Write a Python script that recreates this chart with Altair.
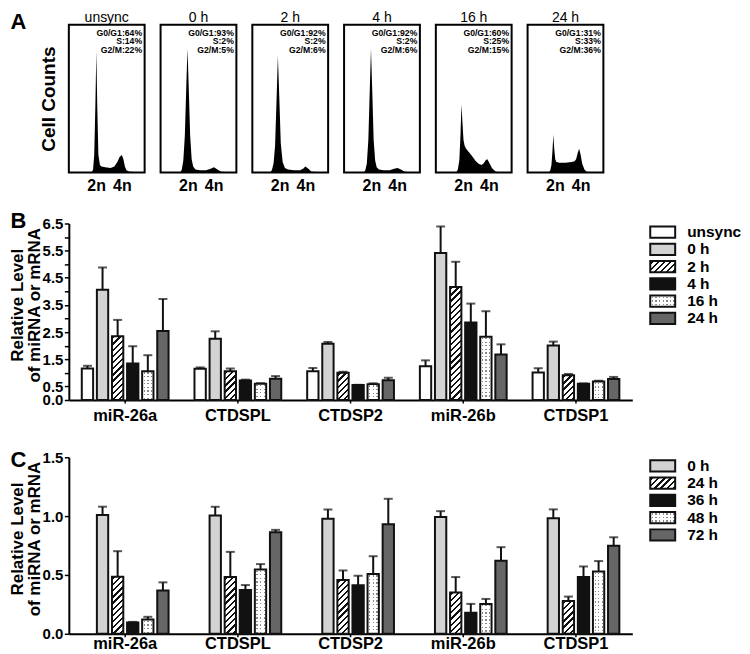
import altair as alt
import pandas as pd

# ---------------- Panel A: flow cytometry histograms ----------------
a_titles = ["unsync", "0 h", "2 h", "4 h", "16 h", "24 h"]
a_g1 = ["G0/G1:64%", "G0/G1:93%", "G0/G1:92%", "G0/G1:92%", "G0/G1:60%", "G0/G1:31%"]
a_s = ["S:14%", "S:2%", "S:2%", "S:2%", "S:25%", "S:33%"]
a_g2 = ["G2/M:22%", "G2/M:5%", "G2/M:6%", "G2/M:6%", "G2/M:15%", "G2/M:36%"]
a_tick_pos = [36, 70]
a_tick_labels = ["2n", "4n"]

a_x = [
    [0, 30, 32, 33.5, 35, 36.3, 37.5, 39, 41, 43, 48, 55, 60, 64, 67, 70, 72, 74, 76, 80, 100],
    [0, 26, 28, 30, 32, 34, 35.5, 37, 39, 41, 43, 46, 52, 60, 66, 70.5, 75, 80, 100],
    [0, 24, 26, 28, 30, 32, 33.7, 35.5, 37.5, 40, 43, 47, 55, 63, 67, 70, 74, 78, 100],
    [0, 26, 28, 30, 32, 34, 35.5, 37, 39, 41, 43, 46, 52, 60, 66, 70.5, 75, 80, 100],
    [0, 27, 29, 31, 32.5, 33.8, 35, 36.5, 38, 40, 44, 48, 52, 56, 60, 63, 66, 68, 71, 74, 78, 82, 100],
    [0, 28, 30, 31.5, 33, 34, 35, 36.5, 38, 42, 50, 58, 62, 64, 66, 68, 70, 72, 75, 78, 82, 100],
]
a_y = [
    [0, 0, 2, 12, 45, 82, 45, 12, 5, 4, 3.5, 3, 4, 7, 10.5, 11.8, 9, 4, 1.5, 0.5, 0],
    [0, 0, 2, 8, 25, 60, 84, 60, 25, 9, 4, 2, 1.5, 1.5, 2.5, 3.5, 2, 0.5, 0],
    [0, 0, 2, 6, 18, 50, 79, 52, 20, 7, 3, 2, 1.5, 1.5, 2.5, 4, 2.5, 0.5, 0],
    [0, 0, 1.5, 6, 22, 58, 84, 58, 22, 8, 3.5, 2, 1.5, 1.5, 2.5, 3, 2, 0.5, 0],
    [0, 0, 2, 8, 25, 46, 35, 22, 18, 16, 13.5, 11, 8, 6, 5, 6, 8.5, 9, 6, 3, 1, 0, 0],
    [0, 0, 1.5, 5, 16, 25.5, 17, 9, 7, 6.5, 6.5, 7, 7.5, 9, 13, 16, 12, 6, 2, 0.5, 0, 0],
]

# ---------------- Panel B ----------------
b_categories = ["miR-26a", "CTDSPL", "CTDSP2", "miR-26b", "CTDSP1"]
b_series = ["unsync", "0 h", "2 h", "4 h", "16 h", "24 h"]
b_means = [
    [1.16, 4.06, 2.35, 1.34, 1.06, 2.54],
    [1.15, 2.26, 1.06, 0.72, 0.60, 0.78],
    [1.06, 2.07, 1.00, 0.55, 0.585, 0.73],
    [1.24, 5.41, 4.16, 2.85, 2.33, 1.68],
    [1.01, 2.01, 0.91, 0.60, 0.68, 0.77],
]
b_errors = [
    [0.10, 0.82, 0.60, 0.64, 0.59, 1.18],
    [0.05, 0.27, 0.10, 0.03, 0.02, 0.10],
    [0.12, 0.07, 0.04, 0.01, 0.03, 0.09],
    [0.22, 0.98, 0.93, 0.70, 0.94, 0.37],
    [0.16, 0.14, 0.05, 0.01, 0.03, 0.08],
]
b_yticks = [0, 0.5, 1, 1.5, 2, 2.5, 3, 3.5, 4, 4.5, 5, 5.5, 6, 6.5]

# ---------------- Panel C ----------------
c_categories = ["miR-26a", "CTDSPL", "CTDSP2", "miR-26b", "CTDSP1"]
c_series = ["0 h", "24 h", "36 h", "48 h", "72 h"]
c_means = [
    [1.01, 0.485, 0.096, 0.121, 0.367],
    [1.006, 0.482, 0.372, 0.547, 0.863],
    [0.978, 0.457, 0.412, 0.507, 0.93],
    [0.992, 0.35, 0.178, 0.254, 0.62],
    [0.981, 0.279, 0.482, 0.53, 0.747],
]
c_errors = [
    [0.07, 0.217, 0.005, 0.023, 0.07],
    [0.073, 0.214, 0.042, 0.045, 0.02],
    [0.079, 0.081, 0.081, 0.152, 0.217],
    [0.05, 0.132, 0.076, 0.042, 0.116],
    [0.076, 0.037, 0.09, 0.088, 0.073],
]
c_yticks = [0, 0.5, 1.0, 1.5]

y_title = ["Relative Level", "of miRNA or mRNA"]

# ---------------- styles ----------------
INK = "#111111"
COLORS = {"white": "#ffffff", "light": "#d3d3d3", "hatch": "#ffffff",
          "black": "#111111", "dots": "#ffffff", "dark": "#666666"}
B_STYLE = {"unsync": "white", "0 h": "light", "2 h": "hatch", "4 h": "black", "16 h": "dots", "24 h": "dark"}
C_STYLE = {"0 h": "light", "24 h": "hatch", "36 h": "black", "48 h": "dots", "72 h": "dark"}

PLOT_W = 565
PLOT_H = 177
X_PI, X_PO = 0.23, 0.115
O_PI = 0.25
LETTER_X = -58.5


def stripe_stops(length, period, thick, phase, on, off):
    stops = [{"offset": 0.0, "color": off}]
    s = phase
    while s < length:
        a = round(s / length, 5)
        b = round(min((s + thick) / length, 1.0), 5)
        stops += [{"offset": a, "color": off}, {"offset": a, "color": on},
                  {"offset": b, "color": on}, {"offset": b, "color": off}]
        s += period
    stops.append({"offset": 1.0, "color": off})
    return stops


def hatch_grad(w, h):
    L = w + h
    k = L / (w * w + h * h)
    return {"gradient": "linear", "x1": 0, "y1": 0, "x2": round(k * w, 5), "y2": round(k * h, 5),
            "stops": stripe_stops(L, 6.2, 2.3, 1.5, INK, "#ffffff")}


def dots_grads(w, h):
    g1 = {"gradient": "linear", "x1": 0, "y1": 0, "x2": 1, "y2": 0,
          "stops": stripe_stops(w, 3.6, 1.3, 1.6, "#8a8a8a", "#ffffff")}
    g2 = {"gradient": "linear", "x1": 0, "y1": 0, "x2": 0, "y2": 1,
          "stops": stripe_stops(h, 3.6, 1.3, 1.2, "transparent", "#ffffff")}
    return g1, g2


def letter_layer(letter, x, y):
    return alt.Chart(pd.DataFrame({"t": [letter]})).mark_text(
        align="left", baseline="top", fontSize=22, fontWeight="bold", color="black"
    ).encode(x=alt.value(x), y=alt.value(y), text="t:N")


# ---------------- build panel A ----------------
A_W, A_H = 76, 148
label_expr_a = "%s[indexof(%s, datum.value)]" % (
    "[" + ",".join("'%s'" % t for t in a_tick_labels) + "]",
    "[" + ",".join(str(v) for v in a_tick_pos) + "]")

hist_charts = []
for i, t in enumerate(a_titles):
    df = pd.DataFrame({"x": a_x[i], "y": a_y[i]})
    xaxis = alt.Axis(values=a_tick_pos, labelExpr=label_expr_a, ticks=False, domain=False, grid=False,
                     tickSize=0, labelFontSize=16, labelFontWeight="bold", labelPadding=5,
                     labelAngle=0, title=None, labelColor="black", labelFlush=False)
    if i == 0:
        yaxis = alt.Axis(title="Cell Counts", labels=False, ticks=False, domain=False, grid=False,
                         titleFontSize=19, titleFontWeight="bold", titlePadding=10, titleColor="black")
    else:
        yaxis = None
    area = alt.Chart(df).mark_area(color="black", interpolate="linear").encode(
        x=alt.X("x:Q", scale=alt.Scale(domain=[0, 100], nice=False, zero=False), axis=xaxis),
        y=alt.Y("y:Q", scale=alt.Scale(domain=[0, 100], nice=False), axis=yaxis),
    )
    one = pd.DataFrame({"k": [0]})
    stats = alt.Chart(one).mark_text(
        text=[a_g1[i], a_s[i], a_g2[i]], align="right", baseline="top", fontSize=8.7,
        fontWeight="bold", lineHeight=8.6, color="black"
    ).encode(x=alt.value(A_W - 2.5), y=alt.value(4))
    title = alt.Chart(pd.DataFrame({"t": [t]})).mark_text(
        align="center", baseline="alphabetic", fontSize=14, color="black"
    ).encode(x=alt.value(A_W / 2), y=alt.value(-2.8), text="t:N")
    layers = [area, stats, title]
    if i == 0:
        layers.append(letter_layer("A", LETTER_X, -13))
        # invisible marker that fixes the top edge of the layout
        layers.append(alt.Chart(one).mark_rule(opacity=0, strokeWidth=1).encode(
            x=alt.value(0), x2=alt.value(1), y=alt.value(-20)))
    hist_charts.append(
        alt.layer(*layers).properties(
            width=A_W, height=A_H,
            view=alt.ViewBackground(stroke="black", strokeWidth=2),
        )
    )


# ---------------- bar panels ----------------
def bar_panel(categories, series, slots, means, errors, style, ymax, yvals, ylabel_expr, letter, letter_y,
              xlabel_pad):
    rows = []
    for ci, cat in enumerate(categories):
        for si, s in enumerate(series):
            rows.append({"category": cat, "series": s, "mean": means[ci][si],
                         "top": means[ci][si] + errors[ci][si]})
    df = pd.DataFrame(rows)
    pxu = PLOT_H / ymax
    step = PLOT_W / (len(categories) - X_PI + 2 * X_PO)
    band = step * (1 - X_PI)
    bar_w = band / (len(slots) - O_PI) * (1 - O_PI)

    xscale = alt.Scale(domain=categories, paddingInner=X_PI, paddingOuter=X_PO)
    oscale = alt.Scale(domain=slots, paddingInner=O_PI, paddingOuter=0)
    yscale = alt.Scale(domain=[0, ymax], nice=False, zero=True)
    xaxis = alt.Axis(title=None, labelAngle=0, labelFontSize=16.5, labelFontWeight="bold",
                     labelPadding=xlabel_pad, tickSize=3, tickWidth=1.5, domainWidth=2, grid=False,
                     labelColor="black", tickColor="black", domainColor="black")
    yaxis = alt.Axis(title=None, values=yvals, labelExpr=ylabel_expr, labelFontSize=15,
                     labelFontWeight="bold", labelPadding=1.5, tickSize=4.5, tickWidth=1.5,
                     labelOverlap=False, labelBound=False,
                     domainWidth=2, grid=False, labelColor="black", tickColor="black",
                     domainColor="black")
    X = alt.X("category:N", scale=xscale, axis=xaxis)
    XO = alt.XOffset("series:N", scale=oscale)
    Ym = alt.Y("mean:Q", scale=yscale, axis=yaxis)

    base = alt.Chart(df)
    rules = base.mark_rule(color=INK, strokeWidth=2).encode(x=X, xOffset=XO, y=Ym, y2="top:Q")
    caps = base.mark_tick(color=INK, thickness=2, size=9, orient="horizontal").encode(
        x=X, xOffset=XO, y=alt.Y("top:Q", scale=yscale, axis=yaxis))
    fills = base.mark_bar().encode(
        x=X, xOffset=XO, y=Ym,
        fill=alt.Fill("series:N", scale=alt.Scale(domain=series, range=[COLORS[style[s]] for s in series]),
                      legend=None))
    overlays = []
    for ci, cat in enumerate(categories):
        for si, s in enumerate(series):
            h = means[ci][si] * pxu
            flt = "datum.category == '%s' && datum.series == '%s'" % (cat, s)
            if style[s] == "hatch":
                overlays.append(base.mark_bar(fill=hatch_grad(bar_w, h)).encode(
                    x=X, xOffset=XO, y=Ym).transform_filter(flt))
            elif style[s] == "dots":
                g1, g2 = dots_grads(bar_w, h)
                overlays.append(base.mark_bar(fill=g1).encode(x=X, xOffset=XO, y=Ym).transform_filter(flt))
                overlays.append(base.mark_bar(fill=g2).encode(x=X, xOffset=XO, y=Ym).transform_filter(flt))
    outline = base.mark_bar(fill="transparent", stroke=INK, strokeWidth=2).encode(x=X, xOffset=XO, y=Ym)
    ytitle = alt.Chart(pd.DataFrame({"k": [0]})).mark_text(
        text=y_title, angle=270, align="center", baseline="bottom", fontSize=17, fontWeight="bold",
        lineHeight=17, color="black"
    ).encode(x=alt.value(-41.5), y=alt.value(82))
    return alt.layer(rules, caps, fills, *overlays, outline, ytitle,
                     letter_layer(letter, LETTER_X, letter_y)).properties(width=PLOT_W, height=PLOT_H)


def legend_panel(series, style):
    n = len(series)
    step = 17.3
    height = step * n
    df = pd.DataFrame({"series": series})
    Y = alt.Y("series:N", scale=alt.Scale(domain=series, paddingInner=0.36, paddingOuter=0.18), axis=None)
    bh = step * (1 - 0.36)
    base = alt.Chart(df)
    fills = base.mark_bar().encode(
        x=alt.value(0), x2=alt.value(25), y=Y,
        fill=alt.Fill("series:N", scale=alt.Scale(domain=series, range=[COLORS[style[s]] for s in series]),
                      legend=None))
    overlays = []
    for s in series:
        flt = "datum.series == '%s'" % s
        if style[s] == "hatch":
            overlays.append(base.mark_bar(fill=hatch_grad(25, bh)).encode(
                x=alt.value(0), x2=alt.value(25), y=Y).transform_filter(flt))
        elif style[s] == "dots":
            g1, g2 = dots_grads(25, bh)
            overlays.append(base.mark_bar(fill=g1).encode(x=alt.value(0), x2=alt.value(25), y=Y).transform_filter(flt))
            overlays.append(base.mark_bar(fill=g2).encode(x=alt.value(0), x2=alt.value(25), y=Y).transform_filter(flt))
    outline = base.mark_bar(fill="transparent", stroke=INK, strokeWidth=2).encode(
        x=alt.value(0), x2=alt.value(25), y=Y)
    text = base.mark_text(align="left", baseline="middle", fontSize=15.5, fontWeight="bold", color="black").encode(
        x=alt.value(37), y=Y, text="series:N")
    return alt.layer(fills, *overlays, outline, text).properties(width=90, height=height)


b_label_expr = "datum.value == 0 ? '0.0' : (datum.value % 1 == 0 ? '' : format(datum.value, '.1f'))"
c_label_expr = "format(datum.value, '.1f')"

chartB = bar_panel(b_categories, b_series, b_series, b_means, b_errors, B_STYLE, 6.5, b_yticks,
                   b_label_expr, "B", -12.7, 4.2)
chartC = bar_panel(c_categories, c_series, ["none"] + c_series, c_means, c_errors, C_STYLE, 1.5, c_yticks,
                   c_label_expr, "C", -7.3, -1.5)

rowA = alt.hconcat(*hist_charts, spacing=16, bounds="flush")
rowB = alt.hconcat(chartB, legend_panel(b_series, B_STYLE), spacing=18, bounds="flush")
rowC = alt.hconcat(chartC, legend_panel(c_series, C_STYLE), spacing=18, bounds="flush")
lower = alt.vconcat(rowB, rowC, spacing=23.4).resolve_scale(fill="independent", xOffset="independent")

chart = alt.vconcat(rowA, lower, spacing=14.2).resolve_scale(
    fill="independent", xOffset="independent"
).properties(
    padding={"left": 0, "top": -5, "right": 0, "bottom": 0}
).configure(font="Liberation Sans").configure_view(stroke="transparent")

chart.save("out.html", embed_options={"renderer": "svg", "actions": False})
